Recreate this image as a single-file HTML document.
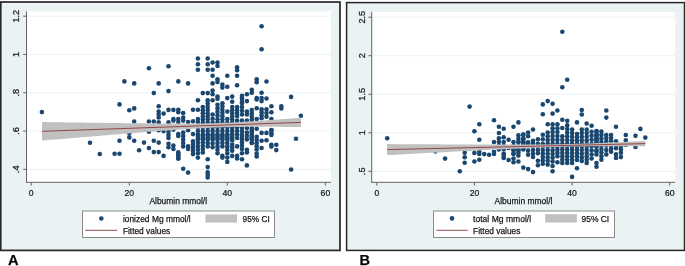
<!DOCTYPE html><html><head><meta charset="utf-8"><style>html,body{margin:0;padding:0;background:#fff}svg{display:block}text{font-family:"Liberation Sans",sans-serif;stroke:#222;stroke-width:0.25px}svg{will-change:transform}</style></head><body>
<svg width="685" height="266" viewBox="0 0 685 266">
<rect width="685" height="266" fill="#fff"/>
<rect x="0.75" y="2.0" width="339.25" height="248.4" fill="#EAF2F3" stroke="#262626" stroke-width="1.7"/>
<rect x="27" y="11.3" width="304" height="170.7" fill="#fff"/>
<line x1="27" x2="331" y1="16.18" y2="16.18" stroke="#EAF2F3" stroke-width="1"/>
<line x1="27" x2="331" y1="54.46" y2="54.46" stroke="#EAF2F3" stroke-width="1"/>
<line x1="27" x2="331" y1="92.74" y2="92.74" stroke="#EAF2F3" stroke-width="1"/>
<line x1="27" x2="331" y1="131.02" y2="131.02" stroke="#EAF2F3" stroke-width="1"/>
<line x1="27" x2="331" y1="169.30" y2="169.30" stroke="#EAF2F3" stroke-width="1"/>
<circle cx="158.7" cy="111.6" r="2.3" fill="#1A476F"/>
<circle cx="158.7" cy="114.5" r="2.3" fill="#1A476F"/>
<circle cx="158.7" cy="117.5" r="2.3" fill="#1A476F"/>
<circle cx="212.6" cy="90.6" r="2.3" fill="#1A476F"/>
<circle cx="212.6" cy="94.3" r="2.3" fill="#1A476F"/>
<circle cx="217.5" cy="79.3" r="2.3" fill="#1A476F"/>
<circle cx="217.5" cy="81.9" r="2.3" fill="#1A476F"/>
<circle cx="217.5" cy="96.6" r="2.3" fill="#1A476F"/>
<circle cx="217.5" cy="98.8" r="2.3" fill="#1A476F"/>
<circle cx="222.4" cy="84.6" r="2.3" fill="#1A476F"/>
<circle cx="222.4" cy="87.6" r="2.3" fill="#1A476F"/>
<circle cx="237.1" cy="67.3" r="2.3" fill="#1A476F"/>
<circle cx="237.1" cy="70.3" r="2.3" fill="#1A476F"/>
<circle cx="242.0" cy="95.8" r="2.3" fill="#1A476F"/>
<circle cx="242.0" cy="98.8" r="2.3" fill="#1A476F"/>
<circle cx="251.8" cy="89.8" r="2.3" fill="#1A476F"/>
<circle cx="251.8" cy="92.8" r="2.3" fill="#1A476F"/>
<circle cx="256.7" cy="79.3" r="2.3" fill="#1A476F"/>
<circle cx="256.7" cy="82.3" r="2.3" fill="#1A476F"/>
<circle cx="261.6" cy="98.1" r="2.3" fill="#1A476F"/>
<circle cx="261.6" cy="101.1" r="2.3" fill="#1A476F"/>
<circle cx="173.4" cy="119.0" r="2.3" fill="#1A476F"/>
<circle cx="173.4" cy="120.6" r="2.3" fill="#1A476F"/>
<circle cx="178.3" cy="109.7" r="2.3" fill="#1A476F"/>
<circle cx="178.3" cy="112.3" r="2.3" fill="#1A476F"/>
<circle cx="178.3" cy="119.0" r="2.3" fill="#1A476F"/>
<circle cx="178.3" cy="122.0" r="2.3" fill="#1A476F"/>
<circle cx="168.5" cy="131.8" r="2.3" fill="#1A476F"/>
<circle cx="168.5" cy="134.9" r="2.3" fill="#1A476F"/>
<circle cx="168.5" cy="138.0" r="2.3" fill="#1A476F"/>
<circle cx="183.2" cy="117.5" r="2.3" fill="#1A476F"/>
<circle cx="183.2" cy="120.6" r="2.3" fill="#1A476F"/>
<circle cx="197.9" cy="119.0" r="2.3" fill="#1A476F"/>
<circle cx="197.9" cy="122.0" r="2.3" fill="#1A476F"/>
<circle cx="202.8" cy="107.0" r="2.3" fill="#1A476F"/>
<circle cx="202.8" cy="110.2" r="2.3" fill="#1A476F"/>
<circle cx="202.8" cy="113.3" r="2.3" fill="#1A476F"/>
<circle cx="202.8" cy="116.5" r="2.3" fill="#1A476F"/>
<circle cx="202.8" cy="119.6" r="2.3" fill="#1A476F"/>
<circle cx="202.8" cy="122.8" r="2.3" fill="#1A476F"/>
<circle cx="207.7" cy="100.3" r="2.3" fill="#1A476F"/>
<circle cx="207.7" cy="103.5" r="2.3" fill="#1A476F"/>
<circle cx="207.7" cy="106.7" r="2.3" fill="#1A476F"/>
<circle cx="207.7" cy="109.9" r="2.3" fill="#1A476F"/>
<circle cx="207.7" cy="113.2" r="2.3" fill="#1A476F"/>
<circle cx="207.7" cy="116.4" r="2.3" fill="#1A476F"/>
<circle cx="207.7" cy="119.6" r="2.3" fill="#1A476F"/>
<circle cx="207.7" cy="122.8" r="2.3" fill="#1A476F"/>
<circle cx="212.6" cy="114.5" r="2.3" fill="#1A476F"/>
<circle cx="212.6" cy="118.7" r="2.3" fill="#1A476F"/>
<circle cx="212.6" cy="122.8" r="2.3" fill="#1A476F"/>
<circle cx="217.5" cy="104.8" r="2.3" fill="#1A476F"/>
<circle cx="217.5" cy="108.4" r="2.3" fill="#1A476F"/>
<circle cx="217.5" cy="112.0" r="2.3" fill="#1A476F"/>
<circle cx="217.5" cy="115.6" r="2.3" fill="#1A476F"/>
<circle cx="217.5" cy="119.2" r="2.3" fill="#1A476F"/>
<circle cx="217.5" cy="122.8" r="2.3" fill="#1A476F"/>
<circle cx="222.4" cy="103.3" r="2.3" fill="#1A476F"/>
<circle cx="222.4" cy="106.5" r="2.3" fill="#1A476F"/>
<circle cx="222.4" cy="109.8" r="2.3" fill="#1A476F"/>
<circle cx="222.4" cy="113.0" r="2.3" fill="#1A476F"/>
<circle cx="222.4" cy="116.3" r="2.3" fill="#1A476F"/>
<circle cx="222.4" cy="119.5" r="2.3" fill="#1A476F"/>
<circle cx="222.4" cy="122.8" r="2.3" fill="#1A476F"/>
<circle cx="227.3" cy="119.0" r="2.3" fill="#1A476F"/>
<circle cx="227.3" cy="122.8" r="2.3" fill="#1A476F"/>
<circle cx="232.2" cy="107.0" r="2.3" fill="#1A476F"/>
<circle cx="232.2" cy="110.2" r="2.3" fill="#1A476F"/>
<circle cx="232.2" cy="113.3" r="2.3" fill="#1A476F"/>
<circle cx="232.2" cy="116.5" r="2.3" fill="#1A476F"/>
<circle cx="232.2" cy="119.6" r="2.3" fill="#1A476F"/>
<circle cx="232.2" cy="122.8" r="2.3" fill="#1A476F"/>
<circle cx="237.1" cy="107.0" r="2.3" fill="#1A476F"/>
<circle cx="237.1" cy="110.0" r="2.3" fill="#1A476F"/>
<circle cx="237.1" cy="113.0" r="2.3" fill="#1A476F"/>
<circle cx="237.1" cy="116.0" r="2.3" fill="#1A476F"/>
<circle cx="237.1" cy="120.5" r="2.3" fill="#1A476F"/>
<circle cx="237.1" cy="122.8" r="2.3" fill="#1A476F"/>
<circle cx="242.0" cy="98.0" r="2.3" fill="#1A476F"/>
<circle cx="242.0" cy="101.8" r="2.3" fill="#1A476F"/>
<circle cx="242.0" cy="103.3" r="2.3" fill="#1A476F"/>
<circle cx="242.0" cy="107.0" r="2.3" fill="#1A476F"/>
<circle cx="242.0" cy="110.8" r="2.3" fill="#1A476F"/>
<circle cx="242.0" cy="114.5" r="2.3" fill="#1A476F"/>
<circle cx="242.0" cy="120.5" r="2.3" fill="#1A476F"/>
<circle cx="242.0" cy="122.8" r="2.3" fill="#1A476F"/>
<circle cx="246.9" cy="111.5" r="2.3" fill="#1A476F"/>
<circle cx="246.9" cy="114.5" r="2.3" fill="#1A476F"/>
<circle cx="251.8" cy="110.0" r="2.3" fill="#1A476F"/>
<circle cx="251.8" cy="113.2" r="2.3" fill="#1A476F"/>
<circle cx="251.8" cy="116.4" r="2.3" fill="#1A476F"/>
<circle cx="251.8" cy="119.6" r="2.3" fill="#1A476F"/>
<circle cx="251.8" cy="122.8" r="2.3" fill="#1A476F"/>
<circle cx="197.9" cy="127.3" r="2.3" fill="#1A476F"/>
<circle cx="197.9" cy="130.9" r="2.3" fill="#1A476F"/>
<circle cx="197.9" cy="134.4" r="2.3" fill="#1A476F"/>
<circle cx="197.9" cy="138.0" r="2.3" fill="#1A476F"/>
<circle cx="202.8" cy="127.3" r="2.3" fill="#1A476F"/>
<circle cx="202.8" cy="130.9" r="2.3" fill="#1A476F"/>
<circle cx="202.8" cy="134.4" r="2.3" fill="#1A476F"/>
<circle cx="202.8" cy="138.0" r="2.3" fill="#1A476F"/>
<circle cx="207.7" cy="127.3" r="2.3" fill="#1A476F"/>
<circle cx="207.7" cy="130.9" r="2.3" fill="#1A476F"/>
<circle cx="207.7" cy="134.4" r="2.3" fill="#1A476F"/>
<circle cx="207.7" cy="138.0" r="2.3" fill="#1A476F"/>
<circle cx="212.6" cy="127.3" r="2.3" fill="#1A476F"/>
<circle cx="212.6" cy="130.9" r="2.3" fill="#1A476F"/>
<circle cx="212.6" cy="134.4" r="2.3" fill="#1A476F"/>
<circle cx="212.6" cy="138.0" r="2.3" fill="#1A476F"/>
<circle cx="217.5" cy="127.3" r="2.3" fill="#1A476F"/>
<circle cx="217.5" cy="130.9" r="2.3" fill="#1A476F"/>
<circle cx="217.5" cy="134.4" r="2.3" fill="#1A476F"/>
<circle cx="217.5" cy="138.0" r="2.3" fill="#1A476F"/>
<circle cx="222.4" cy="127.3" r="2.3" fill="#1A476F"/>
<circle cx="222.4" cy="130.9" r="2.3" fill="#1A476F"/>
<circle cx="222.4" cy="134.4" r="2.3" fill="#1A476F"/>
<circle cx="222.4" cy="138.0" r="2.3" fill="#1A476F"/>
<circle cx="227.3" cy="127.3" r="2.3" fill="#1A476F"/>
<circle cx="227.3" cy="130.9" r="2.3" fill="#1A476F"/>
<circle cx="227.3" cy="134.4" r="2.3" fill="#1A476F"/>
<circle cx="227.3" cy="138.0" r="2.3" fill="#1A476F"/>
<circle cx="232.2" cy="128.0" r="2.3" fill="#1A476F"/>
<circle cx="232.2" cy="131.0" r="2.3" fill="#1A476F"/>
<circle cx="232.2" cy="134.0" r="2.3" fill="#1A476F"/>
<circle cx="232.2" cy="138.0" r="2.3" fill="#1A476F"/>
<circle cx="237.1" cy="127.3" r="2.3" fill="#1A476F"/>
<circle cx="237.1" cy="130.9" r="2.3" fill="#1A476F"/>
<circle cx="237.1" cy="134.4" r="2.3" fill="#1A476F"/>
<circle cx="237.1" cy="138.0" r="2.3" fill="#1A476F"/>
<circle cx="242.0" cy="128.0" r="2.3" fill="#1A476F"/>
<circle cx="242.0" cy="131.3" r="2.3" fill="#1A476F"/>
<circle cx="242.0" cy="134.7" r="2.3" fill="#1A476F"/>
<circle cx="242.0" cy="138.0" r="2.3" fill="#1A476F"/>
<circle cx="246.9" cy="128.0" r="2.3" fill="#1A476F"/>
<circle cx="246.9" cy="132.6" r="2.3" fill="#1A476F"/>
<circle cx="251.8" cy="128.0" r="2.3" fill="#1A476F"/>
<circle cx="251.8" cy="131.3" r="2.3" fill="#1A476F"/>
<circle cx="251.8" cy="134.7" r="2.3" fill="#1A476F"/>
<circle cx="251.8" cy="138.0" r="2.3" fill="#1A476F"/>
<circle cx="256.7" cy="98.0" r="2.3" fill="#1A476F"/>
<circle cx="256.7" cy="99.5" r="2.3" fill="#1A476F"/>
<circle cx="261.6" cy="109.3" r="2.3" fill="#1A476F"/>
<circle cx="261.6" cy="112.3" r="2.3" fill="#1A476F"/>
<circle cx="261.6" cy="115.3" r="2.3" fill="#1A476F"/>
<circle cx="261.6" cy="118.3" r="2.3" fill="#1A476F"/>
<circle cx="266.5" cy="109.3" r="2.3" fill="#1A476F"/>
<circle cx="266.5" cy="113.0" r="2.3" fill="#1A476F"/>
<circle cx="266.5" cy="116.8" r="2.3" fill="#1A476F"/>
<circle cx="281.3" cy="106.3" r="2.3" fill="#1A476F"/>
<circle cx="281.3" cy="108.5" r="2.3" fill="#1A476F"/>
<circle cx="271.4" cy="130.3" r="2.3" fill="#1A476F"/>
<circle cx="271.4" cy="133.3" r="2.3" fill="#1A476F"/>
<circle cx="168.5" cy="143.8" r="2.3" fill="#1A476F"/>
<circle cx="168.5" cy="147.2" r="2.3" fill="#1A476F"/>
<circle cx="173.4" cy="145.5" r="2.3" fill="#1A476F"/>
<circle cx="173.4" cy="149.0" r="2.3" fill="#1A476F"/>
<circle cx="178.3" cy="153.3" r="2.3" fill="#1A476F"/>
<circle cx="178.3" cy="155.9" r="2.3" fill="#1A476F"/>
<circle cx="178.3" cy="158.5" r="2.3" fill="#1A476F"/>
<circle cx="178.3" cy="152.4" r="2.3" fill="#1A476F"/>
<circle cx="178.3" cy="155.4" r="2.3" fill="#1A476F"/>
<circle cx="178.3" cy="158.5" r="2.3" fill="#1A476F"/>
<circle cx="183.2" cy="136.0" r="2.3" fill="#1A476F"/>
<circle cx="183.2" cy="139.5" r="2.3" fill="#1A476F"/>
<circle cx="183.2" cy="142.9" r="2.3" fill="#1A476F"/>
<circle cx="183.2" cy="146.4" r="2.3" fill="#1A476F"/>
<circle cx="188.1" cy="146.4" r="2.3" fill="#1A476F"/>
<circle cx="188.1" cy="149.0" r="2.3" fill="#1A476F"/>
<circle cx="193.0" cy="141.2" r="2.3" fill="#1A476F"/>
<circle cx="193.0" cy="144.4" r="2.3" fill="#1A476F"/>
<circle cx="193.0" cy="147.6" r="2.3" fill="#1A476F"/>
<circle cx="193.0" cy="150.9" r="2.3" fill="#1A476F"/>
<circle cx="193.0" cy="154.1" r="2.3" fill="#1A476F"/>
<circle cx="197.9" cy="136.0" r="2.3" fill="#1A476F"/>
<circle cx="197.9" cy="139.5" r="2.3" fill="#1A476F"/>
<circle cx="197.9" cy="142.9" r="2.3" fill="#1A476F"/>
<circle cx="197.9" cy="146.4" r="2.3" fill="#1A476F"/>
<circle cx="197.9" cy="149.8" r="2.3" fill="#1A476F"/>
<circle cx="197.9" cy="153.3" r="2.3" fill="#1A476F"/>
<circle cx="202.8" cy="136.0" r="2.3" fill="#1A476F"/>
<circle cx="202.8" cy="139.3" r="2.3" fill="#1A476F"/>
<circle cx="202.8" cy="142.6" r="2.3" fill="#1A476F"/>
<circle cx="202.8" cy="145.8" r="2.3" fill="#1A476F"/>
<circle cx="202.8" cy="149.1" r="2.3" fill="#1A476F"/>
<circle cx="202.8" cy="152.4" r="2.3" fill="#1A476F"/>
<circle cx="207.7" cy="136.0" r="2.3" fill="#1A476F"/>
<circle cx="207.7" cy="139.5" r="2.3" fill="#1A476F"/>
<circle cx="207.7" cy="142.9" r="2.3" fill="#1A476F"/>
<circle cx="207.7" cy="146.4" r="2.3" fill="#1A476F"/>
<circle cx="207.7" cy="172.3" r="2.3" fill="#1A476F"/>
<circle cx="207.7" cy="174.9" r="2.3" fill="#1A476F"/>
<circle cx="207.7" cy="177.5" r="2.3" fill="#1A476F"/>
<circle cx="212.6" cy="136.0" r="2.3" fill="#1A476F"/>
<circle cx="212.6" cy="139.7" r="2.3" fill="#1A476F"/>
<circle cx="212.6" cy="143.5" r="2.3" fill="#1A476F"/>
<circle cx="212.6" cy="147.2" r="2.3" fill="#1A476F"/>
<circle cx="217.5" cy="136.0" r="2.3" fill="#1A476F"/>
<circle cx="217.5" cy="139.5" r="2.3" fill="#1A476F"/>
<circle cx="217.5" cy="142.9" r="2.3" fill="#1A476F"/>
<circle cx="217.5" cy="146.4" r="2.3" fill="#1A476F"/>
<circle cx="217.5" cy="149.8" r="2.3" fill="#1A476F"/>
<circle cx="217.5" cy="153.3" r="2.3" fill="#1A476F"/>
<circle cx="222.4" cy="136.0" r="2.3" fill="#1A476F"/>
<circle cx="222.4" cy="139.5" r="2.3" fill="#1A476F"/>
<circle cx="222.4" cy="142.9" r="2.3" fill="#1A476F"/>
<circle cx="222.4" cy="146.4" r="2.3" fill="#1A476F"/>
<circle cx="222.4" cy="155.9" r="2.3" fill="#1A476F"/>
<circle cx="222.4" cy="157.6" r="2.3" fill="#1A476F"/>
<circle cx="227.3" cy="136.0" r="2.3" fill="#1A476F"/>
<circle cx="227.3" cy="139.5" r="2.3" fill="#1A476F"/>
<circle cx="227.3" cy="142.9" r="2.3" fill="#1A476F"/>
<circle cx="227.3" cy="146.4" r="2.3" fill="#1A476F"/>
<circle cx="227.3" cy="149.8" r="2.3" fill="#1A476F"/>
<circle cx="227.3" cy="153.3" r="2.3" fill="#1A476F"/>
<circle cx="227.3" cy="157.6" r="2.3" fill="#1A476F"/>
<circle cx="227.3" cy="161.9" r="2.3" fill="#1A476F"/>
<circle cx="232.2" cy="136.0" r="2.3" fill="#1A476F"/>
<circle cx="232.2" cy="140.3" r="2.3" fill="#1A476F"/>
<circle cx="232.2" cy="144.6" r="2.3" fill="#1A476F"/>
<circle cx="232.2" cy="147.6" r="2.3" fill="#1A476F"/>
<circle cx="232.2" cy="150.7" r="2.3" fill="#1A476F"/>
<circle cx="237.1" cy="155.9" r="2.3" fill="#1A476F"/>
<circle cx="237.1" cy="158.5" r="2.3" fill="#1A476F"/>
<circle cx="242.0" cy="136.0" r="2.3" fill="#1A476F"/>
<circle cx="242.0" cy="139.2" r="2.3" fill="#1A476F"/>
<circle cx="242.0" cy="142.5" r="2.3" fill="#1A476F"/>
<circle cx="242.0" cy="145.8" r="2.3" fill="#1A476F"/>
<circle cx="242.0" cy="149.0" r="2.3" fill="#1A476F"/>
<circle cx="246.9" cy="136.0" r="2.3" fill="#1A476F"/>
<circle cx="246.9" cy="139.5" r="2.3" fill="#1A476F"/>
<circle cx="246.9" cy="149.8" r="2.3" fill="#1A476F"/>
<circle cx="246.9" cy="152.4" r="2.3" fill="#1A476F"/>
<circle cx="251.8" cy="136.0" r="2.3" fill="#1A476F"/>
<circle cx="251.8" cy="139.4" r="2.3" fill="#1A476F"/>
<circle cx="251.8" cy="142.9" r="2.3" fill="#1A476F"/>
<circle cx="251.8" cy="130.0" r="2.3" fill="#1A476F"/>
<circle cx="251.8" cy="133.0" r="2.3" fill="#1A476F"/>
<circle cx="251.8" cy="137.8" r="2.3" fill="#1A476F"/>
<circle cx="251.8" cy="142.7" r="2.3" fill="#1A476F"/>
<circle cx="256.7" cy="136.8" r="2.3" fill="#1A476F"/>
<circle cx="256.7" cy="140.0" r="2.3" fill="#1A476F"/>
<circle cx="256.7" cy="143.2" r="2.3" fill="#1A476F"/>
<circle cx="256.7" cy="146.3" r="2.3" fill="#1A476F"/>
<circle cx="256.7" cy="149.5" r="2.3" fill="#1A476F"/>
<circle cx="256.7" cy="153.5" r="2.3" fill="#1A476F"/>
<circle cx="256.7" cy="156.4" r="2.3" fill="#1A476F"/>
<circle cx="271.4" cy="130.0" r="2.3" fill="#1A476F"/>
<circle cx="271.4" cy="134.9" r="2.3" fill="#1A476F"/>
<circle cx="271.4" cy="144.7" r="2.3" fill="#1A476F"/>
<circle cx="271.4" cy="146.6" r="2.3" fill="#1A476F"/>
<circle cx="261.6" cy="26.3" r="2.3" fill="#1A476F"/>
<circle cx="261.6" cy="49.3" r="2.3" fill="#1A476F"/>
<circle cx="197.9" cy="58.5" r="2.3" fill="#1A476F"/>
<circle cx="197.9" cy="64.2" r="2.3" fill="#1A476F"/>
<circle cx="197.9" cy="69.8" r="2.3" fill="#1A476F"/>
<circle cx="207.7" cy="58.5" r="2.3" fill="#1A476F"/>
<circle cx="207.7" cy="64.2" r="2.3" fill="#1A476F"/>
<circle cx="212.6" cy="62.5" r="2.3" fill="#1A476F"/>
<circle cx="217.5" cy="62.5" r="2.3" fill="#1A476F"/>
<circle cx="217.5" cy="66.0" r="2.3" fill="#1A476F"/>
<circle cx="207.7" cy="69.8" r="2.3" fill="#1A476F"/>
<circle cx="148.9" cy="68.3" r="2.3" fill="#1A476F"/>
<circle cx="168.5" cy="66.3" r="2.3" fill="#1A476F"/>
<circle cx="124.4" cy="81.4" r="2.3" fill="#1A476F"/>
<circle cx="134.2" cy="83.4" r="2.3" fill="#1A476F"/>
<circle cx="158.7" cy="83.4" r="2.3" fill="#1A476F"/>
<circle cx="178.3" cy="81.4" r="2.3" fill="#1A476F"/>
<circle cx="153.8" cy="93.0" r="2.3" fill="#1A476F"/>
<circle cx="168.5" cy="91.1" r="2.3" fill="#1A476F"/>
<circle cx="119.5" cy="104.4" r="2.3" fill="#1A476F"/>
<circle cx="129.3" cy="110.3" r="2.3" fill="#1A476F"/>
<circle cx="134.2" cy="108.4" r="2.3" fill="#1A476F"/>
<circle cx="41.9" cy="112.1" r="2.3" fill="#1A476F"/>
<circle cx="158.7" cy="106.2" r="2.3" fill="#1A476F"/>
<circle cx="163.6" cy="113.6" r="2.3" fill="#1A476F"/>
<circle cx="168.5" cy="109.9" r="2.3" fill="#1A476F"/>
<circle cx="173.4" cy="109.9" r="2.3" fill="#1A476F"/>
<circle cx="134.2" cy="121.5" r="2.3" fill="#1A476F"/>
<circle cx="148.9" cy="121.5" r="2.3" fill="#1A476F"/>
<circle cx="153.8" cy="121.5" r="2.3" fill="#1A476F"/>
<circle cx="158.7" cy="122.4" r="2.3" fill="#1A476F"/>
<circle cx="168.5" cy="122.4" r="2.3" fill="#1A476F"/>
<circle cx="188.1" cy="83.4" r="2.3" fill="#1A476F"/>
<circle cx="197.9" cy="100.3" r="2.3" fill="#1A476F"/>
<circle cx="202.8" cy="93.1" r="2.3" fill="#1A476F"/>
<circle cx="207.7" cy="93.1" r="2.3" fill="#1A476F"/>
<circle cx="212.6" cy="69.8" r="2.3" fill="#1A476F"/>
<circle cx="212.6" cy="75.8" r="2.3" fill="#1A476F"/>
<circle cx="212.6" cy="83.4" r="2.3" fill="#1A476F"/>
<circle cx="212.6" cy="100.3" r="2.3" fill="#1A476F"/>
<circle cx="227.3" cy="75.8" r="2.3" fill="#1A476F"/>
<circle cx="227.3" cy="86.8" r="2.3" fill="#1A476F"/>
<circle cx="227.3" cy="98.1" r="2.3" fill="#1A476F"/>
<circle cx="232.2" cy="96.6" r="2.3" fill="#1A476F"/>
<circle cx="232.2" cy="101.8" r="2.3" fill="#1A476F"/>
<circle cx="237.1" cy="75.8" r="2.3" fill="#1A476F"/>
<circle cx="237.1" cy="85.3" r="2.3" fill="#1A476F"/>
<circle cx="246.9" cy="94.3" r="2.3" fill="#1A476F"/>
<circle cx="246.9" cy="101.1" r="2.3" fill="#1A476F"/>
<circle cx="266.5" cy="81.5" r="2.3" fill="#1A476F"/>
<circle cx="261.6" cy="92.8" r="2.3" fill="#1A476F"/>
<circle cx="266.5" cy="98.5" r="2.3" fill="#1A476F"/>
<circle cx="291.1" cy="96.9" r="2.3" fill="#1A476F"/>
<circle cx="129.3" cy="133.3" r="2.3" fill="#1A476F"/>
<circle cx="129.3" cy="137.4" r="2.3" fill="#1A476F"/>
<circle cx="148.9" cy="131.8" r="2.3" fill="#1A476F"/>
<circle cx="158.7" cy="130.3" r="2.3" fill="#1A476F"/>
<circle cx="163.6" cy="131.1" r="2.3" fill="#1A476F"/>
<circle cx="173.4" cy="129.6" r="2.3" fill="#1A476F"/>
<circle cx="178.3" cy="134.1" r="2.3" fill="#1A476F"/>
<circle cx="183.2" cy="113.0" r="2.3" fill="#1A476F"/>
<circle cx="188.1" cy="122.0" r="2.3" fill="#1A476F"/>
<circle cx="193.0" cy="109.7" r="2.3" fill="#1A476F"/>
<circle cx="193.0" cy="121.3" r="2.3" fill="#1A476F"/>
<circle cx="197.9" cy="109.7" r="2.3" fill="#1A476F"/>
<circle cx="227.3" cy="111.5" r="2.3" fill="#1A476F"/>
<circle cx="246.9" cy="120.5" r="2.3" fill="#1A476F"/>
<circle cx="183.2" cy="132.6" r="2.3" fill="#1A476F"/>
<circle cx="188.1" cy="130.3" r="2.3" fill="#1A476F"/>
<circle cx="193.0" cy="134.1" r="2.3" fill="#1A476F"/>
<circle cx="256.7" cy="108.2" r="2.3" fill="#1A476F"/>
<circle cx="256.7" cy="119.0" r="2.3" fill="#1A476F"/>
<circle cx="271.4" cy="106.3" r="2.3" fill="#1A476F"/>
<circle cx="271.4" cy="112.3" r="2.3" fill="#1A476F"/>
<circle cx="271.4" cy="119.0" r="2.3" fill="#1A476F"/>
<circle cx="300.9" cy="115.7" r="2.3" fill="#1A476F"/>
<circle cx="256.7" cy="128.8" r="2.3" fill="#1A476F"/>
<circle cx="261.6" cy="132.9" r="2.3" fill="#1A476F"/>
<circle cx="266.5" cy="132.9" r="2.3" fill="#1A476F"/>
<circle cx="90.0" cy="142.7" r="2.3" fill="#1A476F"/>
<circle cx="99.8" cy="154.0" r="2.3" fill="#1A476F"/>
<circle cx="114.6" cy="153.8" r="2.3" fill="#1A476F"/>
<circle cx="119.5" cy="153.8" r="2.3" fill="#1A476F"/>
<circle cx="119.5" cy="140.7" r="2.3" fill="#1A476F"/>
<circle cx="134.2" cy="140.7" r="2.3" fill="#1A476F"/>
<circle cx="139.1" cy="150.2" r="2.3" fill="#1A476F"/>
<circle cx="144.0" cy="142.6" r="2.3" fill="#1A476F"/>
<circle cx="148.9" cy="148.1" r="2.3" fill="#1A476F"/>
<circle cx="153.8" cy="140.7" r="2.3" fill="#1A476F"/>
<circle cx="153.8" cy="152.1" r="2.3" fill="#1A476F"/>
<circle cx="158.7" cy="142.6" r="2.3" fill="#1A476F"/>
<circle cx="158.7" cy="152.1" r="2.3" fill="#1A476F"/>
<circle cx="163.6" cy="155.9" r="2.3" fill="#1A476F"/>
<circle cx="178.3" cy="136.0" r="2.3" fill="#1A476F"/>
<circle cx="183.2" cy="168.8" r="2.3" fill="#1A476F"/>
<circle cx="188.1" cy="172.6" r="2.3" fill="#1A476F"/>
<circle cx="197.9" cy="157.6" r="2.3" fill="#1A476F"/>
<circle cx="207.7" cy="159.3" r="2.3" fill="#1A476F"/>
<circle cx="207.7" cy="167.1" r="2.3" fill="#1A476F"/>
<circle cx="232.2" cy="155.9" r="2.3" fill="#1A476F"/>
<circle cx="237.1" cy="146.4" r="2.3" fill="#1A476F"/>
<circle cx="242.0" cy="153.3" r="2.3" fill="#1A476F"/>
<circle cx="242.0" cy="159.3" r="2.3" fill="#1A476F"/>
<circle cx="246.9" cy="165.4" r="2.3" fill="#1A476F"/>
<circle cx="261.6" cy="140.8" r="2.3" fill="#1A476F"/>
<circle cx="261.6" cy="148.0" r="2.3" fill="#1A476F"/>
<circle cx="266.5" cy="140.2" r="2.3" fill="#1A476F"/>
<circle cx="276.3" cy="144.7" r="2.3" fill="#1A476F"/>
<circle cx="276.3" cy="150.1" r="2.3" fill="#1A476F"/>
<circle cx="296.0" cy="138.8" r="2.3" fill="#1A476F"/>
<circle cx="291.1" cy="169.5" r="2.3" fill="#1A476F"/>
<polygon points="42.08,122.00 46.40,122.07 50.71,122.13 55.02,122.20 59.34,122.26 63.65,122.32 67.96,122.39 72.28,122.45 76.59,122.51 80.90,122.57 85.21,122.63 89.53,122.69 93.84,122.75 98.15,122.81 102.47,122.87 106.78,122.92 111.09,122.98 115.41,123.03 119.72,123.09 124.03,123.14 128.34,123.19 132.66,123.24 136.97,123.29 141.28,123.33 145.60,123.37 149.91,123.41 154.22,123.45 158.54,123.48 162.85,123.51 167.16,123.54 171.47,123.55 175.79,123.57 180.10,123.57 184.41,123.57 188.73,123.55 193.04,123.53 197.35,123.49 201.67,123.43 205.98,123.36 210.29,123.27 214.60,123.16 218.92,123.03 223.23,122.87 227.54,122.70 231.86,122.50 236.17,122.28 240.48,122.05 244.80,121.80 249.11,121.54 253.42,121.26 257.73,120.97 262.05,120.67 266.36,120.37 270.67,120.06 274.99,119.74 279.30,119.42 283.61,119.09 287.93,118.76 292.24,118.42 296.55,118.08 300.86,117.74 300.86,127.06 296.55,127.01 292.24,126.97 287.93,126.93 283.61,126.90 279.30,126.87 274.99,126.84 270.67,126.82 266.36,126.80 262.05,126.80 257.73,126.80 253.42,126.80 249.11,126.82 244.80,126.86 240.48,126.90 236.17,126.97 231.86,127.05 227.54,127.15 223.23,127.27 218.92,127.41 214.60,127.57 210.29,127.76 205.98,127.97 201.67,128.19 197.35,128.43 193.04,128.69 188.73,128.96 184.41,129.24 180.10,129.54 175.79,129.84 171.47,130.15 167.16,130.46 162.85,130.78 158.54,131.11 154.22,131.44 149.91,131.77 145.60,132.11 141.28,132.45 136.97,132.79 132.66,133.13 128.34,133.48 124.03,133.82 119.72,134.17 115.41,134.52 111.09,134.87 106.78,135.23 102.47,135.58 98.15,135.93 93.84,136.29 89.53,136.65 85.21,137.00 80.90,137.36 76.59,137.72 72.28,138.08 67.96,138.43 63.65,138.79 59.34,139.15 55.02,139.51 50.71,139.87 46.40,140.23 42.08,140.60" fill="#C0C0C0"/>
<line x1="42.08" y1="131.30" x2="300.86" y2="122.40" stroke="#90353B" stroke-width="0.9"/>
<line x1="26.5" x2="26.5" y1="11.3" y2="182.8" stroke="#646464" stroke-width="1"/>
<line x1="26.0" x2="331" y1="182.3" y2="182.3" stroke="#646464" stroke-width="1"/>
<line x1="23.2" x2="26.5" y1="16.18" y2="16.18" stroke="#646464" stroke-width="1"/>
<text transform="translate(19.2,16.18) rotate(-90)" text-anchor="middle" font-size="9.2" fill="#111">1.2</text>
<line x1="23.2" x2="26.5" y1="54.46" y2="54.46" stroke="#646464" stroke-width="1"/>
<text transform="translate(19.2,54.46) rotate(-90)" text-anchor="middle" font-size="9.2" fill="#111">1</text>
<line x1="23.2" x2="26.5" y1="92.74" y2="92.74" stroke="#646464" stroke-width="1"/>
<text transform="translate(19.2,92.74) rotate(-90)" text-anchor="middle" font-size="9.2" fill="#111">.8</text>
<line x1="23.2" x2="26.5" y1="131.02" y2="131.02" stroke="#646464" stroke-width="1"/>
<text transform="translate(19.2,131.02) rotate(-90)" text-anchor="middle" font-size="9.2" fill="#111">.6</text>
<line x1="23.2" x2="26.5" y1="169.30" y2="169.30" stroke="#646464" stroke-width="1"/>
<text transform="translate(19.2,169.30) rotate(-90)" text-anchor="middle" font-size="9.2" fill="#111">.4</text>
<line x1="31.20" x2="31.20" y1="182.3" y2="185.60000000000002" stroke="#646464" stroke-width="1"/>
<text transform="translate(31.20,195.5) scale(0.9,1)" text-anchor="middle" font-size="9.6" fill="#111">0</text>
<line x1="129.26" x2="129.26" y1="182.3" y2="185.60000000000002" stroke="#646464" stroke-width="1"/>
<text transform="translate(129.26,195.5) scale(0.9,1)" text-anchor="middle" font-size="9.6" fill="#111">20</text>
<line x1="227.32" x2="227.32" y1="182.3" y2="185.60000000000002" stroke="#646464" stroke-width="1"/>
<text transform="translate(227.32,195.5) scale(0.9,1)" text-anchor="middle" font-size="9.6" fill="#111">40</text>
<line x1="325.38" x2="325.38" y1="182.3" y2="185.60000000000002" stroke="#646464" stroke-width="1"/>
<text transform="translate(325.38,195.5) scale(0.9,1)" text-anchor="middle" font-size="9.6" fill="#111">60</text>
<text x="149.4" y="203.9" font-size="9" textLength="57.69999999999999" lengthAdjust="spacingAndGlyphs" fill="#111">Albumin mmol/l</text>
<rect x="82.5" y="211" width="192.0" height="26.5" fill="#fff" stroke="#8a8a8a" stroke-width="1"/>
<circle cx="101.3" cy="218.5" r="2.3" fill="#1A476F"/>
<line x1="85.2" x2="117.1" y1="230.3" y2="230.3" stroke="#90353B" stroke-width="0.9"/>
<rect x="205.4" y="214.4" width="31.599999999999994" height="8.099999999999994" fill="#C0C0C0"/>
<text x="122.9" y="221.9" font-size="9" textLength="67.8" lengthAdjust="spacingAndGlyphs" fill="#111">ionized Mg mmol/l</text>
<text x="122.9" y="233.9" font-size="9" textLength="47.3" lengthAdjust="spacingAndGlyphs" fill="#111">Fitted values</text>
<text x="242.6" y="221.9" font-size="9" textLength="27.1" lengthAdjust="spacingAndGlyphs" fill="#111">95% CI</text>
<text x="8" y="265.3" font-size="14.6" font-weight="bold" fill="#000">A</text>
<rect x="346.6" y="2.6" width="337.9" height="247.8" fill="#EAF2F3" stroke="#262626" stroke-width="1.5"/>
<rect x="372.2" y="12.0" width="303.00000000000006" height="170.0" fill="#fff"/>
<line x1="372.2" x2="675.2" y1="17.20" y2="17.20" stroke="#EAF2F3" stroke-width="1"/>
<line x1="372.2" x2="675.2" y1="55.73" y2="55.73" stroke="#EAF2F3" stroke-width="1"/>
<line x1="372.2" x2="675.2" y1="94.25" y2="94.25" stroke="#EAF2F3" stroke-width="1"/>
<line x1="372.2" x2="675.2" y1="132.78" y2="132.78" stroke="#EAF2F3" stroke-width="1"/>
<line x1="372.2" x2="675.2" y1="171.30" y2="171.30" stroke="#EAF2F3" stroke-width="1"/>
<circle cx="498.9" cy="133.0" r="2.3" fill="#1A476F"/>
<circle cx="498.9" cy="138.3" r="2.3" fill="#1A476F"/>
<circle cx="503.7" cy="154.0" r="2.3" fill="#1A476F"/>
<circle cx="503.7" cy="158.0" r="2.3" fill="#1A476F"/>
<circle cx="513.5" cy="150.3" r="2.3" fill="#1A476F"/>
<circle cx="513.5" cy="154.0" r="2.3" fill="#1A476F"/>
<circle cx="518.4" cy="135.3" r="2.3" fill="#1A476F"/>
<circle cx="518.4" cy="138.7" r="2.3" fill="#1A476F"/>
<circle cx="518.4" cy="142.1" r="2.3" fill="#1A476F"/>
<circle cx="518.4" cy="149.6" r="2.3" fill="#1A476F"/>
<circle cx="518.4" cy="152.6" r="2.3" fill="#1A476F"/>
<circle cx="518.4" cy="155.6" r="2.3" fill="#1A476F"/>
<circle cx="523.3" cy="134.5" r="2.3" fill="#1A476F"/>
<circle cx="523.3" cy="138.3" r="2.3" fill="#1A476F"/>
<circle cx="523.3" cy="142.1" r="2.3" fill="#1A476F"/>
<circle cx="494.0" cy="151.8" r="2.3" fill="#1A476F"/>
<circle cx="494.0" cy="154.0" r="2.3" fill="#1A476F"/>
<circle cx="479.3" cy="151.8" r="2.3" fill="#1A476F"/>
<circle cx="479.3" cy="154.0" r="2.3" fill="#1A476F"/>
<circle cx="498.9" cy="142.0" r="2.3" fill="#1A476F"/>
<circle cx="498.9" cy="145.8" r="2.3" fill="#1A476F"/>
<circle cx="498.9" cy="149.5" r="2.3" fill="#1A476F"/>
<circle cx="503.7" cy="142.0" r="2.3" fill="#1A476F"/>
<circle cx="503.7" cy="145.8" r="2.3" fill="#1A476F"/>
<circle cx="503.7" cy="149.5" r="2.3" fill="#1A476F"/>
<circle cx="503.7" cy="154.0" r="2.3" fill="#1A476F"/>
<circle cx="503.7" cy="157.0" r="2.3" fill="#1A476F"/>
<circle cx="513.5" cy="142.0" r="2.3" fill="#1A476F"/>
<circle cx="513.5" cy="145.8" r="2.3" fill="#1A476F"/>
<circle cx="513.5" cy="149.5" r="2.3" fill="#1A476F"/>
<circle cx="513.5" cy="153.3" r="2.3" fill="#1A476F"/>
<circle cx="513.5" cy="158.5" r="2.3" fill="#1A476F"/>
<circle cx="513.5" cy="162.3" r="2.3" fill="#1A476F"/>
<circle cx="518.4" cy="142.0" r="2.3" fill="#1A476F"/>
<circle cx="518.4" cy="146.2" r="2.3" fill="#1A476F"/>
<circle cx="518.4" cy="150.3" r="2.3" fill="#1A476F"/>
<circle cx="523.3" cy="142.0" r="2.3" fill="#1A476F"/>
<circle cx="523.3" cy="145.4" r="2.3" fill="#1A476F"/>
<circle cx="523.3" cy="148.8" r="2.3" fill="#1A476F"/>
<circle cx="523.3" cy="134.8" r="2.3" fill="#1A476F"/>
<circle cx="523.3" cy="139.3" r="2.3" fill="#1A476F"/>
<circle cx="523.3" cy="143.8" r="2.3" fill="#1A476F"/>
<circle cx="528.1" cy="132.6" r="2.3" fill="#1A476F"/>
<circle cx="528.1" cy="136.3" r="2.3" fill="#1A476F"/>
<circle cx="528.1" cy="142.3" r="2.3" fill="#1A476F"/>
<circle cx="528.1" cy="143.8" r="2.3" fill="#1A476F"/>
<circle cx="533.0" cy="140.8" r="2.3" fill="#1A476F"/>
<circle cx="533.0" cy="143.8" r="2.3" fill="#1A476F"/>
<circle cx="537.9" cy="139.3" r="2.3" fill="#1A476F"/>
<circle cx="537.9" cy="143.8" r="2.3" fill="#1A476F"/>
<circle cx="542.8" cy="134.8" r="2.3" fill="#1A476F"/>
<circle cx="542.8" cy="139.3" r="2.3" fill="#1A476F"/>
<circle cx="542.8" cy="143.8" r="2.3" fill="#1A476F"/>
<circle cx="547.7" cy="132.6" r="2.3" fill="#1A476F"/>
<circle cx="547.7" cy="136.3" r="2.3" fill="#1A476F"/>
<circle cx="547.7" cy="140.1" r="2.3" fill="#1A476F"/>
<circle cx="547.7" cy="143.8" r="2.3" fill="#1A476F"/>
<circle cx="552.6" cy="124.3" r="2.3" fill="#1A476F"/>
<circle cx="552.6" cy="128.2" r="2.3" fill="#1A476F"/>
<circle cx="552.6" cy="132.1" r="2.3" fill="#1A476F"/>
<circle cx="552.6" cy="136.0" r="2.3" fill="#1A476F"/>
<circle cx="552.6" cy="139.9" r="2.3" fill="#1A476F"/>
<circle cx="552.6" cy="143.8" r="2.3" fill="#1A476F"/>
<circle cx="557.4" cy="124.3" r="2.3" fill="#1A476F"/>
<circle cx="557.4" cy="128.2" r="2.3" fill="#1A476F"/>
<circle cx="557.4" cy="132.1" r="2.3" fill="#1A476F"/>
<circle cx="557.4" cy="136.0" r="2.3" fill="#1A476F"/>
<circle cx="557.4" cy="139.9" r="2.3" fill="#1A476F"/>
<circle cx="557.4" cy="143.8" r="2.3" fill="#1A476F"/>
<circle cx="562.3" cy="136.3" r="2.3" fill="#1A476F"/>
<circle cx="562.3" cy="140.1" r="2.3" fill="#1A476F"/>
<circle cx="562.3" cy="143.8" r="2.3" fill="#1A476F"/>
<circle cx="567.2" cy="129.0" r="2.3" fill="#1A476F"/>
<circle cx="567.2" cy="132.7" r="2.3" fill="#1A476F"/>
<circle cx="567.2" cy="136.4" r="2.3" fill="#1A476F"/>
<circle cx="567.2" cy="140.1" r="2.3" fill="#1A476F"/>
<circle cx="567.2" cy="143.8" r="2.3" fill="#1A476F"/>
<circle cx="572.1" cy="129.5" r="2.3" fill="#1A476F"/>
<circle cx="572.1" cy="133.1" r="2.3" fill="#1A476F"/>
<circle cx="572.1" cy="136.7" r="2.3" fill="#1A476F"/>
<circle cx="572.1" cy="140.2" r="2.3" fill="#1A476F"/>
<circle cx="572.1" cy="143.8" r="2.3" fill="#1A476F"/>
<circle cx="577.0" cy="134.0" r="2.3" fill="#1A476F"/>
<circle cx="577.0" cy="137.3" r="2.3" fill="#1A476F"/>
<circle cx="577.0" cy="140.5" r="2.3" fill="#1A476F"/>
<circle cx="577.0" cy="143.8" r="2.3" fill="#1A476F"/>
<circle cx="581.8" cy="110.0" r="2.3" fill="#1A476F"/>
<circle cx="581.8" cy="114.5" r="2.3" fill="#1A476F"/>
<circle cx="581.8" cy="129.5" r="2.3" fill="#1A476F"/>
<circle cx="581.8" cy="133.1" r="2.3" fill="#1A476F"/>
<circle cx="581.8" cy="136.7" r="2.3" fill="#1A476F"/>
<circle cx="581.8" cy="140.2" r="2.3" fill="#1A476F"/>
<circle cx="581.8" cy="143.8" r="2.3" fill="#1A476F"/>
<circle cx="586.7" cy="129.5" r="2.3" fill="#1A476F"/>
<circle cx="586.7" cy="133.1" r="2.3" fill="#1A476F"/>
<circle cx="586.7" cy="136.7" r="2.3" fill="#1A476F"/>
<circle cx="586.7" cy="140.2" r="2.3" fill="#1A476F"/>
<circle cx="586.7" cy="143.8" r="2.3" fill="#1A476F"/>
<circle cx="591.6" cy="131.8" r="2.3" fill="#1A476F"/>
<circle cx="591.6" cy="135.8" r="2.3" fill="#1A476F"/>
<circle cx="591.6" cy="139.8" r="2.3" fill="#1A476F"/>
<circle cx="591.6" cy="143.8" r="2.3" fill="#1A476F"/>
<circle cx="596.5" cy="131.0" r="2.3" fill="#1A476F"/>
<circle cx="596.5" cy="134.2" r="2.3" fill="#1A476F"/>
<circle cx="596.5" cy="137.4" r="2.3" fill="#1A476F"/>
<circle cx="596.5" cy="140.6" r="2.3" fill="#1A476F"/>
<circle cx="596.5" cy="143.8" r="2.3" fill="#1A476F"/>
<circle cx="523.3" cy="146.5" r="2.3" fill="#1A476F"/>
<circle cx="523.3" cy="149.5" r="2.3" fill="#1A476F"/>
<circle cx="528.1" cy="146.5" r="2.3" fill="#1A476F"/>
<circle cx="528.1" cy="150.7" r="2.3" fill="#1A476F"/>
<circle cx="528.1" cy="154.8" r="2.3" fill="#1A476F"/>
<circle cx="533.0" cy="146.5" r="2.3" fill="#1A476F"/>
<circle cx="533.0" cy="150.0" r="2.3" fill="#1A476F"/>
<circle cx="533.0" cy="153.5" r="2.3" fill="#1A476F"/>
<circle cx="533.0" cy="157.0" r="2.3" fill="#1A476F"/>
<circle cx="537.9" cy="146.5" r="2.3" fill="#1A476F"/>
<circle cx="537.9" cy="149.9" r="2.3" fill="#1A476F"/>
<circle cx="537.9" cy="153.3" r="2.3" fill="#1A476F"/>
<circle cx="537.9" cy="160.8" r="2.3" fill="#1A476F"/>
<circle cx="537.9" cy="165.3" r="2.3" fill="#1A476F"/>
<circle cx="542.8" cy="146.5" r="2.3" fill="#1A476F"/>
<circle cx="542.8" cy="150.0" r="2.3" fill="#1A476F"/>
<circle cx="542.8" cy="153.4" r="2.3" fill="#1A476F"/>
<circle cx="542.8" cy="156.9" r="2.3" fill="#1A476F"/>
<circle cx="542.8" cy="160.3" r="2.3" fill="#1A476F"/>
<circle cx="542.8" cy="163.8" r="2.3" fill="#1A476F"/>
<circle cx="547.7" cy="146.5" r="2.3" fill="#1A476F"/>
<circle cx="547.7" cy="150.1" r="2.3" fill="#1A476F"/>
<circle cx="547.7" cy="153.7" r="2.3" fill="#1A476F"/>
<circle cx="547.7" cy="157.2" r="2.3" fill="#1A476F"/>
<circle cx="547.7" cy="160.8" r="2.3" fill="#1A476F"/>
<circle cx="552.6" cy="146.5" r="2.3" fill="#1A476F"/>
<circle cx="552.6" cy="150.2" r="2.3" fill="#1A476F"/>
<circle cx="552.6" cy="154.0" r="2.3" fill="#1A476F"/>
<circle cx="552.6" cy="157.8" r="2.3" fill="#1A476F"/>
<circle cx="552.6" cy="161.5" r="2.3" fill="#1A476F"/>
<circle cx="552.6" cy="166.0" r="2.3" fill="#1A476F"/>
<circle cx="552.6" cy="171.3" r="2.3" fill="#1A476F"/>
<circle cx="557.4" cy="146.5" r="2.3" fill="#1A476F"/>
<circle cx="557.4" cy="149.8" r="2.3" fill="#1A476F"/>
<circle cx="557.4" cy="153.0" r="2.3" fill="#1A476F"/>
<circle cx="557.4" cy="156.3" r="2.3" fill="#1A476F"/>
<circle cx="562.3" cy="146.5" r="2.3" fill="#1A476F"/>
<circle cx="562.3" cy="149.8" r="2.3" fill="#1A476F"/>
<circle cx="562.3" cy="153.1" r="2.3" fill="#1A476F"/>
<circle cx="562.3" cy="156.4" r="2.3" fill="#1A476F"/>
<circle cx="562.3" cy="159.7" r="2.3" fill="#1A476F"/>
<circle cx="562.3" cy="163.0" r="2.3" fill="#1A476F"/>
<circle cx="567.2" cy="146.5" r="2.3" fill="#1A476F"/>
<circle cx="567.2" cy="149.8" r="2.3" fill="#1A476F"/>
<circle cx="567.2" cy="153.1" r="2.3" fill="#1A476F"/>
<circle cx="567.2" cy="156.4" r="2.3" fill="#1A476F"/>
<circle cx="567.2" cy="159.7" r="2.3" fill="#1A476F"/>
<circle cx="567.2" cy="163.0" r="2.3" fill="#1A476F"/>
<circle cx="572.1" cy="146.5" r="2.3" fill="#1A476F"/>
<circle cx="572.1" cy="149.8" r="2.3" fill="#1A476F"/>
<circle cx="572.1" cy="153.1" r="2.3" fill="#1A476F"/>
<circle cx="572.1" cy="156.4" r="2.3" fill="#1A476F"/>
<circle cx="572.1" cy="159.7" r="2.3" fill="#1A476F"/>
<circle cx="572.1" cy="163.0" r="2.3" fill="#1A476F"/>
<circle cx="577.0" cy="146.5" r="2.3" fill="#1A476F"/>
<circle cx="577.0" cy="149.9" r="2.3" fill="#1A476F"/>
<circle cx="577.0" cy="153.2" r="2.3" fill="#1A476F"/>
<circle cx="577.0" cy="156.6" r="2.3" fill="#1A476F"/>
<circle cx="577.0" cy="160.0" r="2.3" fill="#1A476F"/>
<circle cx="581.8" cy="146.5" r="2.3" fill="#1A476F"/>
<circle cx="581.8" cy="150.1" r="2.3" fill="#1A476F"/>
<circle cx="581.8" cy="153.8" r="2.3" fill="#1A476F"/>
<circle cx="581.8" cy="157.4" r="2.3" fill="#1A476F"/>
<circle cx="581.8" cy="161.0" r="2.3" fill="#1A476F"/>
<circle cx="586.7" cy="146.5" r="2.3" fill="#1A476F"/>
<circle cx="586.7" cy="149.8" r="2.3" fill="#1A476F"/>
<circle cx="586.7" cy="153.1" r="2.3" fill="#1A476F"/>
<circle cx="586.7" cy="156.4" r="2.3" fill="#1A476F"/>
<circle cx="586.7" cy="159.7" r="2.3" fill="#1A476F"/>
<circle cx="586.7" cy="163.0" r="2.3" fill="#1A476F"/>
<circle cx="591.6" cy="146.5" r="2.3" fill="#1A476F"/>
<circle cx="591.6" cy="150.5" r="2.3" fill="#1A476F"/>
<circle cx="591.6" cy="154.5" r="2.3" fill="#1A476F"/>
<circle cx="591.6" cy="158.5" r="2.3" fill="#1A476F"/>
<circle cx="596.5" cy="146.5" r="2.3" fill="#1A476F"/>
<circle cx="596.5" cy="151.0" r="2.3" fill="#1A476F"/>
<circle cx="596.5" cy="163.0" r="2.3" fill="#1A476F"/>
<circle cx="596.5" cy="166.8" r="2.3" fill="#1A476F"/>
<circle cx="596.5" cy="131.6" r="2.3" fill="#1A476F"/>
<circle cx="596.5" cy="135.8" r="2.3" fill="#1A476F"/>
<circle cx="596.5" cy="140.0" r="2.3" fill="#1A476F"/>
<circle cx="596.5" cy="135.0" r="2.3" fill="#1A476F"/>
<circle cx="596.5" cy="138.9" r="2.3" fill="#1A476F"/>
<circle cx="596.5" cy="142.8" r="2.3" fill="#1A476F"/>
<circle cx="596.5" cy="146.6" r="2.3" fill="#1A476F"/>
<circle cx="596.5" cy="150.5" r="2.3" fill="#1A476F"/>
<circle cx="596.5" cy="154.4" r="2.3" fill="#1A476F"/>
<circle cx="601.4" cy="135.0" r="2.3" fill="#1A476F"/>
<circle cx="601.4" cy="138.5" r="2.3" fill="#1A476F"/>
<circle cx="601.4" cy="142.0" r="2.3" fill="#1A476F"/>
<circle cx="601.4" cy="145.6" r="2.3" fill="#1A476F"/>
<circle cx="601.4" cy="149.1" r="2.3" fill="#1A476F"/>
<circle cx="601.4" cy="152.6" r="2.3" fill="#1A476F"/>
<circle cx="601.4" cy="156.2" r="2.3" fill="#1A476F"/>
<circle cx="601.4" cy="159.7" r="2.3" fill="#1A476F"/>
<circle cx="606.3" cy="135.0" r="2.3" fill="#1A476F"/>
<circle cx="606.3" cy="138.1" r="2.3" fill="#1A476F"/>
<circle cx="606.3" cy="141.2" r="2.3" fill="#1A476F"/>
<circle cx="606.3" cy="145.6" r="2.3" fill="#1A476F"/>
<circle cx="606.3" cy="150.0" r="2.3" fill="#1A476F"/>
<circle cx="606.3" cy="154.4" r="2.3" fill="#1A476F"/>
<circle cx="611.1" cy="135.0" r="2.3" fill="#1A476F"/>
<circle cx="611.1" cy="138.0" r="2.3" fill="#1A476F"/>
<circle cx="611.1" cy="141.0" r="2.3" fill="#1A476F"/>
<circle cx="611.1" cy="145.6" r="2.3" fill="#1A476F"/>
<circle cx="611.1" cy="148.7" r="2.3" fill="#1A476F"/>
<circle cx="611.1" cy="151.8" r="2.3" fill="#1A476F"/>
<circle cx="616.0" cy="145.6" r="2.3" fill="#1A476F"/>
<circle cx="616.0" cy="148.3" r="2.3" fill="#1A476F"/>
<circle cx="616.0" cy="154.4" r="2.3" fill="#1A476F"/>
<circle cx="616.0" cy="158.0" r="2.3" fill="#1A476F"/>
<circle cx="620.9" cy="146.5" r="2.3" fill="#1A476F"/>
<circle cx="620.9" cy="149.6" r="2.3" fill="#1A476F"/>
<circle cx="620.9" cy="152.7" r="2.3" fill="#1A476F"/>
<circle cx="625.8" cy="135.0" r="2.3" fill="#1A476F"/>
<circle cx="625.8" cy="140.3" r="2.3" fill="#1A476F"/>
<circle cx="562.3" cy="31.8" r="2.3" fill="#1A476F"/>
<circle cx="469.6" cy="106.6" r="2.3" fill="#1A476F"/>
<circle cx="494.0" cy="120.2" r="2.3" fill="#1A476F"/>
<circle cx="518.4" cy="122.4" r="2.3" fill="#1A476F"/>
<circle cx="567.2" cy="79.7" r="2.3" fill="#1A476F"/>
<circle cx="562.3" cy="87.3" r="2.3" fill="#1A476F"/>
<circle cx="542.8" cy="104.4" r="2.3" fill="#1A476F"/>
<circle cx="547.7" cy="101.1" r="2.3" fill="#1A476F"/>
<circle cx="552.6" cy="103.8" r="2.3" fill="#1A476F"/>
<circle cx="542.8" cy="114.3" r="2.3" fill="#1A476F"/>
<circle cx="552.6" cy="113.6" r="2.3" fill="#1A476F"/>
<circle cx="557.4" cy="110.5" r="2.3" fill="#1A476F"/>
<circle cx="606.3" cy="110.5" r="2.3" fill="#1A476F"/>
<circle cx="606.3" cy="117.6" r="2.3" fill="#1A476F"/>
<circle cx="562.3" cy="119.7" r="2.3" fill="#1A476F"/>
<circle cx="567.2" cy="120.8" r="2.3" fill="#1A476F"/>
<circle cx="577.0" cy="122.4" r="2.3" fill="#1A476F"/>
<circle cx="387.2" cy="138.3" r="2.3" fill="#1A476F"/>
<circle cx="435.4" cy="151.4" r="2.3" fill="#1A476F"/>
<circle cx="445.1" cy="158.6" r="2.3" fill="#1A476F"/>
<circle cx="474.4" cy="131.2" r="2.3" fill="#1A476F"/>
<circle cx="479.3" cy="124.3" r="2.3" fill="#1A476F"/>
<circle cx="479.3" cy="139.8" r="2.3" fill="#1A476F"/>
<circle cx="498.9" cy="126.7" r="2.3" fill="#1A476F"/>
<circle cx="503.7" cy="128.8" r="2.3" fill="#1A476F"/>
<circle cx="503.7" cy="137.2" r="2.3" fill="#1A476F"/>
<circle cx="508.6" cy="139.8" r="2.3" fill="#1A476F"/>
<circle cx="508.6" cy="148.0" r="2.3" fill="#1A476F"/>
<circle cx="513.5" cy="126.7" r="2.3" fill="#1A476F"/>
<circle cx="494.0" cy="142.1" r="2.3" fill="#1A476F"/>
<circle cx="464.7" cy="152.8" r="2.3" fill="#1A476F"/>
<circle cx="474.4" cy="152.9" r="2.3" fill="#1A476F"/>
<circle cx="484.2" cy="154.1" r="2.3" fill="#1A476F"/>
<circle cx="489.1" cy="154.8" r="2.3" fill="#1A476F"/>
<circle cx="459.8" cy="171.3" r="2.3" fill="#1A476F"/>
<circle cx="464.7" cy="157.3" r="2.3" fill="#1A476F"/>
<circle cx="464.7" cy="162.8" r="2.3" fill="#1A476F"/>
<circle cx="474.4" cy="161.5" r="2.3" fill="#1A476F"/>
<circle cx="479.3" cy="159.7" r="2.3" fill="#1A476F"/>
<circle cx="508.6" cy="160.0" r="2.3" fill="#1A476F"/>
<circle cx="518.4" cy="161.5" r="2.3" fill="#1A476F"/>
<circle cx="523.3" cy="167.6" r="2.3" fill="#1A476F"/>
<circle cx="533.0" cy="129.5" r="2.3" fill="#1A476F"/>
<circle cx="547.7" cy="124.3" r="2.3" fill="#1A476F"/>
<circle cx="562.3" cy="128.0" r="2.3" fill="#1A476F"/>
<circle cx="567.2" cy="125.3" r="2.3" fill="#1A476F"/>
<circle cx="586.7" cy="123.5" r="2.3" fill="#1A476F"/>
<circle cx="591.6" cy="125.8" r="2.3" fill="#1A476F"/>
<circle cx="528.1" cy="169.1" r="2.3" fill="#1A476F"/>
<circle cx="533.0" cy="172.1" r="2.3" fill="#1A476F"/>
<circle cx="547.7" cy="164.6" r="2.3" fill="#1A476F"/>
<circle cx="557.4" cy="162.3" r="2.3" fill="#1A476F"/>
<circle cx="572.1" cy="176.9" r="2.3" fill="#1A476F"/>
<circle cx="577.0" cy="168.3" r="2.3" fill="#1A476F"/>
<circle cx="616.0" cy="126.8" r="2.3" fill="#1A476F"/>
<circle cx="601.4" cy="131.6" r="2.3" fill="#1A476F"/>
<circle cx="635.5" cy="135.8" r="2.3" fill="#1A476F"/>
<circle cx="640.4" cy="128.9" r="2.3" fill="#1A476F"/>
<circle cx="645.3" cy="137.6" r="2.3" fill="#1A476F"/>
<circle cx="616.0" cy="141.2" r="2.3" fill="#1A476F"/>
<circle cx="620.9" cy="157.1" r="2.3" fill="#1A476F"/>
<circle cx="625.8" cy="144.7" r="2.3" fill="#1A476F"/>
<circle cx="635.5" cy="147.0" r="2.3" fill="#1A476F"/>
<polygon points="387.15,144.10 391.45,144.12 395.76,144.15 400.06,144.17 404.36,144.19 408.66,144.22 412.97,144.24 417.27,144.26 421.57,144.29 425.87,144.31 430.18,144.33 434.48,144.35 438.78,144.37 443.08,144.39 447.39,144.41 451.69,144.43 455.99,144.45 460.30,144.47 464.60,144.49 468.90,144.51 473.20,144.52 477.51,144.54 481.81,144.55 486.11,144.56 490.41,144.58 494.72,144.59 499.02,144.59 503.32,144.60 507.62,144.61 511.93,144.61 516.23,144.61 520.53,144.60 524.84,144.59 529.14,144.58 533.44,144.56 537.74,144.53 542.05,144.50 546.35,144.46 550.65,144.41 554.95,144.35 559.26,144.28 563.56,144.20 567.86,144.10 572.16,143.99 576.47,143.87 580.77,143.74 585.07,143.60 589.38,143.44 593.68,143.28 597.98,143.11 602.28,142.93 606.59,142.75 610.89,142.56 615.19,142.37 619.49,142.18 623.80,141.98 628.10,141.77 632.40,141.57 636.70,141.36 641.01,141.15 645.31,140.94 645.31,146.26 641.01,146.25 636.70,146.24 632.40,146.23 628.10,146.23 623.80,146.22 619.49,146.22 615.19,146.23 610.89,146.24 606.59,146.25 602.28,146.27 597.98,146.29 593.68,146.32 589.38,146.36 585.07,146.40 580.77,146.46 576.47,146.53 572.16,146.61 567.86,146.70 563.56,146.80 559.26,146.92 554.95,147.05 550.65,147.19 546.35,147.34 542.05,147.50 537.74,147.67 533.44,147.84 529.14,148.02 524.84,148.21 520.53,148.40 516.23,148.59 511.93,148.79 507.62,148.99 503.32,149.20 499.02,149.41 494.72,149.61 490.41,149.82 486.11,150.04 481.81,150.25 477.51,150.46 473.20,150.68 468.90,150.89 464.60,151.11 460.30,151.33 455.99,151.55 451.69,151.77 447.39,151.99 443.08,152.21 438.78,152.43 434.48,152.65 430.18,152.87 425.87,153.09 421.57,153.31 417.27,153.54 412.97,153.76 408.66,153.98 404.36,154.21 400.06,154.43 395.76,154.65 391.45,154.88 387.15,155.10" fill="#C0C0C0"/>
<line x1="387.15" y1="149.60" x2="645.31" y2="143.60" stroke="#90353B" stroke-width="0.9"/>
<line x1="371.7" x2="371.7" y1="12.0" y2="182.8" stroke="#646464" stroke-width="1"/>
<line x1="371.2" x2="675.2" y1="182.3" y2="182.3" stroke="#646464" stroke-width="1"/>
<line x1="368.4" x2="371.7" y1="17.20" y2="17.20" stroke="#646464" stroke-width="1"/>
<text transform="translate(364.7,17.20) rotate(-90)" text-anchor="middle" font-size="9.2" fill="#111">2.5</text>
<line x1="368.4" x2="371.7" y1="55.73" y2="55.73" stroke="#646464" stroke-width="1"/>
<text transform="translate(364.7,55.73) rotate(-90)" text-anchor="middle" font-size="9.2" fill="#111">2</text>
<line x1="368.4" x2="371.7" y1="94.25" y2="94.25" stroke="#646464" stroke-width="1"/>
<text transform="translate(364.7,94.25) rotate(-90)" text-anchor="middle" font-size="9.2" fill="#111">1.5</text>
<line x1="368.4" x2="371.7" y1="132.78" y2="132.78" stroke="#646464" stroke-width="1"/>
<text transform="translate(364.7,132.78) rotate(-90)" text-anchor="middle" font-size="9.2" fill="#111">1</text>
<line x1="368.4" x2="371.7" y1="171.30" y2="171.30" stroke="#646464" stroke-width="1"/>
<text transform="translate(364.7,171.30) rotate(-90)" text-anchor="middle" font-size="9.2" fill="#111">.5</text>
<line x1="376.80" x2="376.80" y1="182.3" y2="185.60000000000002" stroke="#646464" stroke-width="1"/>
<text transform="translate(376.80,195.5) scale(0.9,1)" text-anchor="middle" font-size="9.6" fill="#111">0</text>
<line x1="474.44" x2="474.44" y1="182.3" y2="185.60000000000002" stroke="#646464" stroke-width="1"/>
<text transform="translate(474.44,195.5) scale(0.9,1)" text-anchor="middle" font-size="9.6" fill="#111">20</text>
<line x1="572.08" x2="572.08" y1="182.3" y2="185.60000000000002" stroke="#646464" stroke-width="1"/>
<text transform="translate(572.08,195.5) scale(0.9,1)" text-anchor="middle" font-size="9.6" fill="#111">40</text>
<line x1="669.72" x2="669.72" y1="182.3" y2="185.60000000000002" stroke="#646464" stroke-width="1"/>
<text transform="translate(669.72,195.5) scale(0.9,1)" text-anchor="middle" font-size="9.6" fill="#111">60</text>
<text x="494.6" y="203.9" font-size="9" textLength="57.799999999999955" lengthAdjust="spacingAndGlyphs" fill="#111">Albumin mmol/l</text>
<rect x="433.5" y="211" width="181.0" height="26.5" fill="#fff" stroke="#8a8a8a" stroke-width="1"/>
<circle cx="452" cy="218.4" r="2.3" fill="#1A476F"/>
<line x1="436.3" x2="467.8" y1="230.3" y2="230.3" stroke="#90353B" stroke-width="0.9"/>
<rect x="545.2" y="214.2" width="31.699999999999932" height="8.300000000000011" fill="#C0C0C0"/>
<text x="473.1" y="221.9" font-size="9" textLength="58.0" lengthAdjust="spacingAndGlyphs" fill="#111">total Mg mmol/l</text>
<text x="473.1" y="233.9" font-size="9" textLength="47.3" lengthAdjust="spacingAndGlyphs" fill="#111">Fitted values</text>
<text x="581.6" y="221.9" font-size="9" textLength="27.6" lengthAdjust="spacingAndGlyphs" fill="#111">95% CI</text>
<text x="359.6" y="265.3" font-size="14.6" font-weight="bold" fill="#000">B</text>
</svg></body></html>
